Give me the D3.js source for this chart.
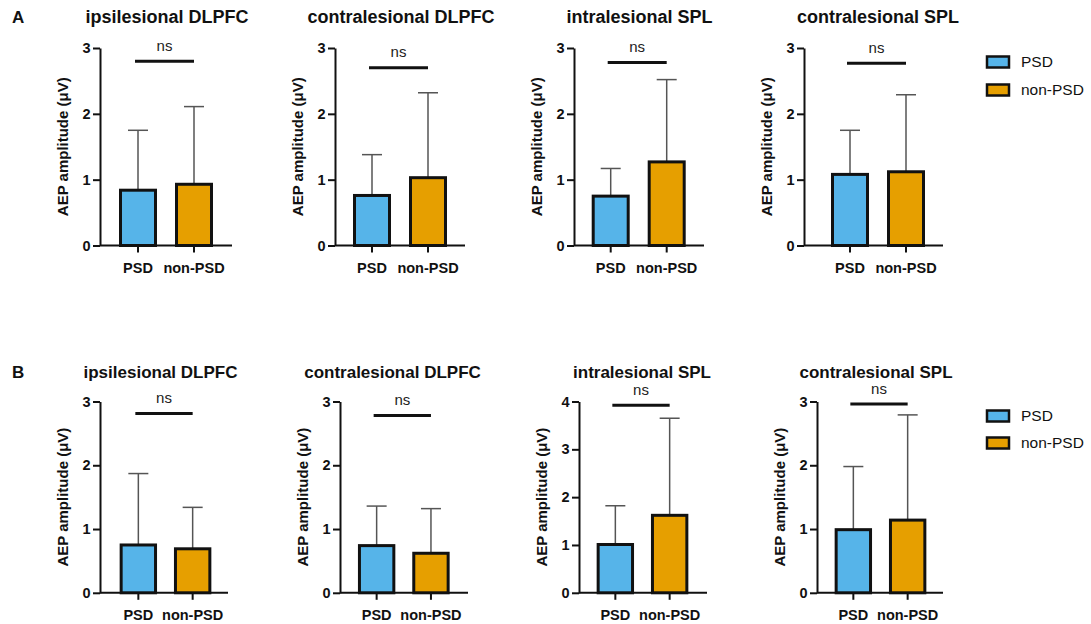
<!DOCTYPE html>
<html>
<head>
<meta charset="utf-8">
<script src="https://cdn.jsdelivr.net/npm/d3@7.9.0/dist/d3.min.js"></script>
<style>
  body { margin: 0; background: #fff; }
  svg { display: block; font-family: "Liberation Sans", Arial, sans-serif; }
  .axis path, .axis line { stroke: #111; stroke-width: 2; }
  .axis text { font-weight: bold; font-size: 14.5px; fill: #111; }
</style>
</head>
<body>
<svg id="chart" width="1091" height="624"></svg>
<script>
// data (mean and SD of AEP amplitude, µV)
const groups = ['PSD', 'non-PSD'];
const regions = ['ipsilesional DLPFC', 'contralesional DLPFC', 'intralesional SPL', 'contralesional SPL'];
const colors = ['#56B4E9', '#E69F00'];

const meanA = [[0.84, 0.93], [0.76, 1.03], [0.75, 1.27], [1.08, 1.12]];
const sdA   = [[0.91, 1.18], [0.62, 1.29], [0.42, 1.25], [0.67, 1.17]];
const yMaxA = [3, 3, 3, 3];
const nsA   = [2.8, 2.7, 2.78, 2.77];

const meanB = [[0.75, 0.69], [0.74, 0.62], [1.01, 1.62], [0.99, 1.14]];
const sdB   = [[1.12, 0.65], [0.62, 0.70], [0.81, 2.03], [0.99, 1.65]];
const yMaxB = [3, 3, 4, 3];
const nsB   = [2.81, 2.78, 3.92, 2.96];

// layout of each small panel
const rows = [
  { label: 'A', labelY: 23, titleY: 23, titleSize: 18, top: 48, bottom: 245.5,
    axisX: [[100, 232], [335, 465], [574, 704], [804, 943]],
    centers: [166, 400, 638.7, 878], titleX: [167, 401, 639.5, 878],
    step: 56, bw: 35, legendY: [62, 90],
    mean: meanA, sd: sdA, yMax: yMaxA, ns: nsA },
  { label: 'B', labelY: 378, titleY: 377.7, titleSize: 17, top: 401.5, bottom: 592.8,
    axisX: [[100, 228], [340, 468], [579, 707], [817, 943]],
    centers: [165.5, 403.8, 642.5, 880.5], titleX: [160.5, 392.5, 642, 876],
    step: 54.5, bw: 34.5, legendY: [416, 443],
    mean: meanB, sd: sdB, yMax: yMaxB, ns: nsB },
];

const svg = d3.select('#chart');

rows.forEach((row) => {
  svg.append('text')
    .attr('x', 12).attr('y', row.labelY)
    .attr('font-size', 17).attr('font-weight', 'bold').attr('fill', '#111')
    .text(row.label);

  regions.forEach((region, i) => {
    const g = svg.append('g');
    const [x0, x1] = row.axisX[i];
    const c = row.centers[i];
    const half = row.step * (1 - 0.375) / 2 + row.step / 2 + row.step * 0.37;

    const x = d3.scaleBand()
      .domain(groups)
      .range([c - half, c + half])
      .paddingInner(1 - row.bw / row.step)
      .paddingOuter(0.37);

    const y = d3.scaleLinear()
      .domain([0, row.yMax[i]])
      .range([row.bottom, row.top]);

    // title
    g.append('text')
      .attr('x', row.titleX[i]).attr('y', row.titleY)
      .attr('text-anchor', 'middle')
      .attr('font-size', row.titleSize).attr('font-weight', 'bold').attr('fill', '#111')
      .text(region);

    // y axis
    g.append('g')
      .attr('class', 'axis')
      .attr('transform', `translate(${x0},0)`)
      .call(d3.axisLeft(y).ticks(row.yMax[i]).tickSize(7).tickSizeOuter(0).tickPadding(2.5).tickFormat(d3.format('d')));

    // x axis: domain line spans the panel, ticks from the band scale
    const xAxis = g.append('g')
      .attr('class', 'axis')
      .attr('transform', `translate(0,${row.bottom})`)
      .call(d3.axisBottom(x).tickSize(7).tickSizeOuter(0).tickPadding(10));
    xAxis.select('.domain').attr('d', `M${x0},0H${x1}`);
    xAxis.selectAll('text').attr('font-size', 14.5);

    // y label
    g.append('text')
      .attr('transform', `translate(${x0 - 37},${(row.top + row.bottom) / 2}) rotate(-90)`)
      .attr('text-anchor', 'middle')
      .attr('dy', '0.35em')
      .attr('font-size', 15).attr('font-weight', 'bold').attr('fill', '#111')
      .text('AEP amplitude (μV)');

    const data = groups.map((grp, j) => ({ grp, mean: row.mean[i][j], sd: row.sd[i][j], color: colors[j] }));

    // error bars (mean + SD)
    const err = g.append('g').attr('stroke', '#555').attr('stroke-width', 1.5);
    err.selectAll('line.v')
      .data(data)
      .join('line')
      .attr('class', 'v')
      .attr('x1', (d) => x(d.grp) + x.bandwidth() / 2)
      .attr('x2', (d) => x(d.grp) + x.bandwidth() / 2)
      .attr('y1', (d) => y(d.mean))
      .attr('y2', (d) => y(d.mean + d.sd));
    err.selectAll('line.cap')
      .data(data)
      .join('line')
      .attr('class', 'cap')
      .attr('x1', (d) => x(d.grp) + x.bandwidth() / 2 - 10)
      .attr('x2', (d) => x(d.grp) + x.bandwidth() / 2 + 10)
      .attr('y1', (d) => y(d.mean + d.sd))
      .attr('y2', (d) => y(d.mean + d.sd));

    // bars
    g.selectAll('rect.bar')
      .data(data)
      .join('rect')
      .attr('class', 'bar')
      .attr('x', (d) => x(d.grp))
      .attr('width', x.bandwidth())
      .attr('y', (d) => y(d.mean))
      .attr('height', (d) => y(0) - y(d.mean))
      .attr('fill', (d) => d.color)
      .attr('stroke', '#111')
      .attr('stroke-width', 3);

    // significance line
    const nsY = y(row.ns[i]);
    const xa = x(groups[0]) + x.bandwidth() / 2 - 3;
    const xb = x(groups[1]) + x.bandwidth() / 2;
    g.append('line')
      .attr('x1', xa).attr('x2', xb)
      .attr('y1', nsY).attr('y2', nsY)
      .attr('stroke', '#111').attr('stroke-width', 3);
    g.append('text')
      .attr('x', (xa + xb) / 2).attr('y', nsY - 10.5)
      .attr('text-anchor', 'middle')
      .attr('font-size', 15).attr('fill', '#222')
      .text('ns');
  });

  // legend
  const legend = svg.append('g');
  groups.forEach((grp, j) => {
    legend.append('rect')
      .attr('x', 987).attr('y', row.legendY[j] - 5.5)
      .attr('width', 22).attr('height', 11)
      .attr('fill', colors[j]).attr('stroke', '#111').attr('stroke-width', 2.5);
    legend.append('text')
      .attr('x', 1021).attr('y', row.legendY[j])
      .attr('dy', '0.35em')
      .attr('font-size', 15.5).attr('fill', '#111')
      .text(grp);
  });
});
</script>
</body>
</html>
